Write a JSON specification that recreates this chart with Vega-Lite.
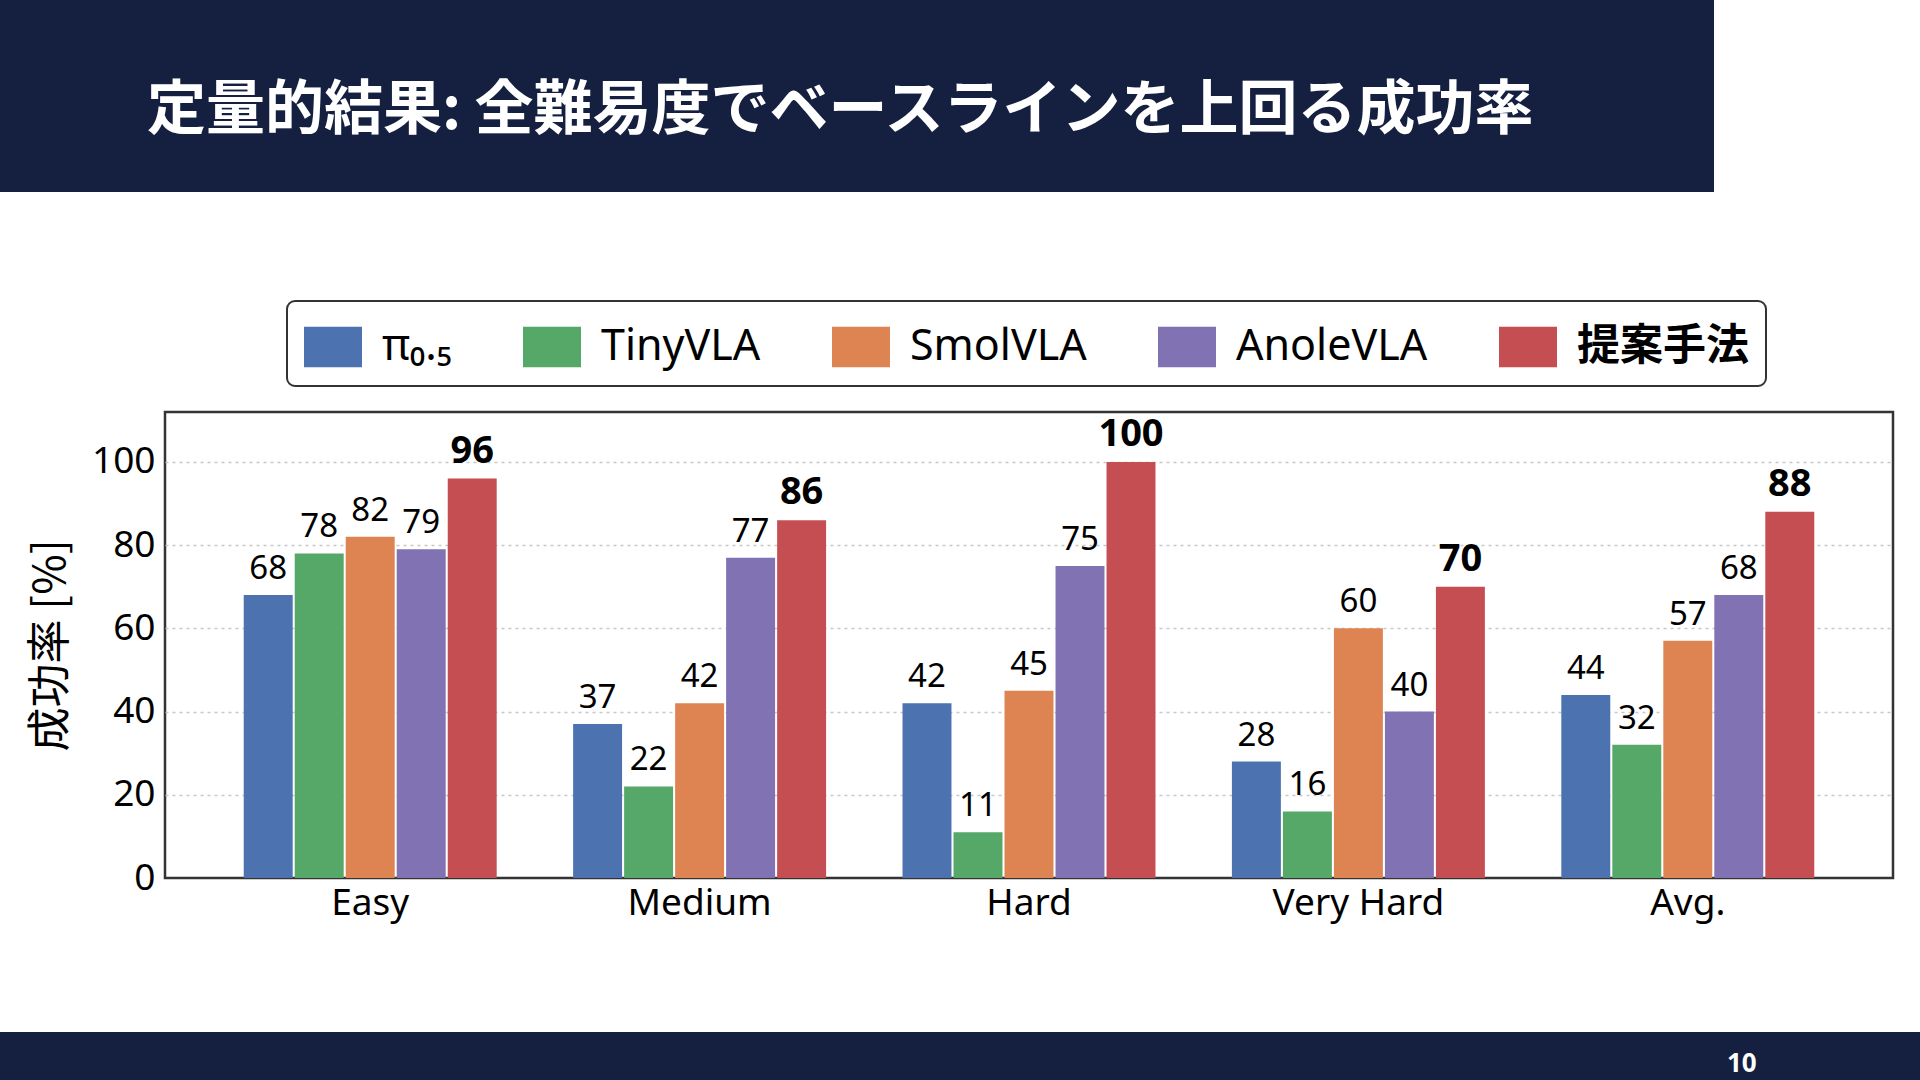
{
  "$schema": "https://vega.github.io/schema/vega-lite/v6.json",
  "description": "定量的結果: 難易度別の成功率（π0.5, TinyVLA, SmolVLA, AnoleVLA, 提案手法）",
  "background": "white",
  "padding": 0,
  "spacing": 0,
  "bounds": "flush",
  "config": {
    "font": "Noto Sans, Noto Sans CJK JP",
    "view": {"stroke": null},
    "legend": {"strokeWidth": 2}
  },
  "vconcat": [
    {
      "spacing": 0,
      "bounds": "flush",
      "hconcat": [
        {
          "width": 1714,
          "height": 192,
          "view": {"fill": "#152040", "stroke": null},
          "title": {
            "text": "定量的結果: 全難易度でベースラインを上回る成功率",
            "orient": "top",
            "anchor": "start",
            "offset": -170,
            "dx": 147,
            "baseline": "middle",
            "color": "white",
            "font": "Noto Sans CJK JP",
            "fontSize": 59,
            "fontWeight": "bold"
          },
          "data": {"values": []},
          "mark": "rect"
        },
        {
          "width": 206,
          "height": 192,
          "data": {"values": []},
          "mark": "rect"
        }
      ]
    },
    {
      "width": 1,
      "height": 412,
      "data": {"values": []},
      "mark": "rect"
    },
    {
      "spacing": 0,
      "bounds": "flush",
      "hconcat": [
        {
          "width": 165,
          "height": 466,
          "data": {"values": []},
          "mark": "rect"
        },
        {
          "width": 1728,
          "height": 466,
          "view": {"stroke": "#333333", "strokeWidth": 2.5},
          "data": {
            "values": [
              {"level": "Easy", "method": "π₀.₅", "value": 68},
              {"level": "Easy", "method": "TinyVLA", "value": 78},
              {"level": "Easy", "method": "SmolVLA", "value": 82},
              {"level": "Easy", "method": "AnoleVLA", "value": 79},
              {"level": "Easy", "method": "提案手法", "value": 96},
              {"level": "Medium", "method": "π₀.₅", "value": 37},
              {"level": "Medium", "method": "TinyVLA", "value": 22},
              {"level": "Medium", "method": "SmolVLA", "value": 42},
              {"level": "Medium", "method": "AnoleVLA", "value": 77},
              {"level": "Medium", "method": "提案手法", "value": 86},
              {"level": "Hard", "method": "π₀.₅", "value": 42},
              {"level": "Hard", "method": "TinyVLA", "value": 11},
              {"level": "Hard", "method": "SmolVLA", "value": 45},
              {"level": "Hard", "method": "AnoleVLA", "value": 75},
              {"level": "Hard", "method": "提案手法", "value": 100},
              {"level": "Very Hard", "method": "π₀.₅", "value": 28},
              {"level": "Very Hard", "method": "TinyVLA", "value": 16},
              {"level": "Very Hard", "method": "SmolVLA", "value": 60},
              {"level": "Very Hard", "method": "AnoleVLA", "value": 40},
              {"level": "Very Hard", "method": "提案手法", "value": 70},
              {"level": "Avg.", "method": "π₀.₅", "value": 44},
              {"level": "Avg.", "method": "TinyVLA", "value": 32},
              {"level": "Avg.", "method": "SmolVLA", "value": 57},
              {"level": "Avg.", "method": "AnoleVLA", "value": 68},
              {"level": "Avg.", "method": "提案手法", "value": 88}
            ]
          },
          "encoding": {
            "x": {
              "field": "level",
              "type": "nominal",
              "sort": ["Easy", "Medium", "Hard", "Very Hard", "Avg."],
              "scale": {"paddingInner": 0.232, "paddingOuter": 0.239},
              "axis": {
                "title": null,
                "labelAngle": 0,
                "labelFont": "Noto Sans",
                "labelFontSize": 37,
                "labelColor": "black",
                "labelPadding": 7,
                "ticks": false,
                "domain": false
              }
            },
            "xOffset": {
              "field": "method",
              "type": "nominal",
              "sort": ["π₀.₅", "TinyVLA", "SmolVLA", "AnoleVLA", "提案手法"],
              "scale": {"paddingInner": 0.04}
            },
            "y": {
              "field": "value",
              "type": "quantitative",
              "scale": {"domain": [0, 112], "nice": false},
              "axis": {
                "values": [0, 20, 40, 60, 80, 100],
                "title": "成功率 [%]",
                "titleFont": "Noto Sans CJK JP",
                "titleFontSize": 44,
                "titleFontWeight": "normal",
                "titleColor": "black",
                "titlePadding": 18,
                "labelFont": "Noto Sans",
                "labelFontSize": 37,
                "labelColor": "black",
                "labelPadding": 10,
                "ticks": false,
                "domain": false,
                "grid": true,
                "gridColor": "#c8c8c8",
                "gridDash": [3, 4],
                "gridWidth": 1.3,
                "gridOpacity": {"condition": {"test": "datum.value === 0", "value": 0}, "value": 1}
              }
            }
          },
          "layer": [
            {
              "mark": {"type": "bar"},
              "encoding": {
                "color": {
                  "field": "method",
                  "type": "nominal",
                  "scale": {
                    "domain": ["π₀.₅", "TinyVLA", "SmolVLA", "AnoleVLA", "提案手法"],
                    "range": ["#4c72b0", "#55a868", "#dd8452", "#8172b3", "#c44e52"]
                  },
                  "legend": {
                    "title": null,
                    "orient": "none",
                    "direction": "horizontal",
                    "legendX": 287,
                    "legendY": 301,
                    "fillColor": "white",
                    "strokeColor": "#333333",
                    "cornerRadius": 8,
                    "padding": 17,
                    "columnPadding": 71,
                    "symbolType": "M-1,-0.7H1V0.7H-1Z",
                    "symbolSize": 3364,
                    "symbolStrokeWidth": 0,
                    "symbolOpacity": 1,
                    "labelOffset": 20,
                    "labelFont": "Noto Sans, Noto Sans CJK JP",
                    "labelFontSize": 43,
                    "labelColor": "black",
                    "labelLimit": 400,
                    "labelFontWeight": {"expr": "datum.label === '提案手法' ? 'bold' : 'normal'"}
                  }
                }
              }
            },
            {
              "transform": [{"filter": "datum.method !== '提案手法'"}],
              "mark": {
                "type": "text",
                "baseline": "alphabetic",
                "dy": -16,
                "fontSize": 33,
                "font": "Noto Sans",
                "color": "black"
              },
              "encoding": {"text": {"field": "value", "type": "quantitative"}}
            },
            {
              "transform": [{"filter": "datum.method === '提案手法'"}],
              "mark": {
                "type": "text",
                "baseline": "alphabetic",
                "dy": -16,
                "fontSize": 38,
                "font": "Noto Sans",
                "fontWeight": "bold",
                "color": "black"
              },
              "encoding": {"text": {"field": "value", "type": "quantitative"}}
            }
          ]
        }
      ]
    },
    {
      "width": 1,
      "height": 620,
      "data": {"values": []},
      "mark": "rect"
    },
    {
      "width": 1920,
      "height": 48,
      "view": {"fill": "#152040", "stroke": null},
      "title": {
        "text": "10",
        "orient": "top",
        "anchor": "start",
        "offset": -58,
        "dx": 1727,
        "baseline": "middle",
        "color": "white",
        "font": "Noto Sans",
        "fontSize": 26,
        "fontWeight": "bold"
      },
      "data": {"values": []},
      "mark": "rect"
    }
  ]
}
